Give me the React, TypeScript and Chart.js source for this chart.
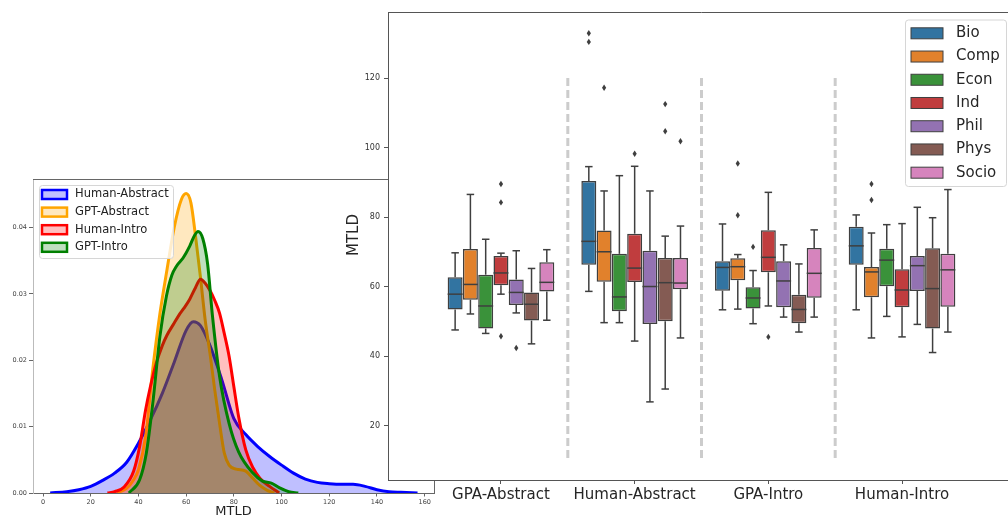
import React, { useEffect, useRef } from 'react';
import { Chart, registerables } from 'chart.js';

Chart.register(...registerables);

const FONT = 'DejaVu Sans';

// ---------- Left chart: KDE of MTLD ----------
const kdeLabels = ['Human-Abstract', 'GPT-Abstract', 'Human-Intro', 'GPT-Intro'];
const kdeColors = ['#0000ff', '#ffa500', '#ff0000', '#008000'];
const kdeFills = ['rgba(0,0,255,0.25)', 'rgba(255,165,0,0.25)', 'rgba(255,0,0,0.25)', 'rgba(0,128,0,0.25)'];

const humanAbstractX = [3, 10, 15, 20, 25, 30, 35, 40, 45, 50, 55, 60, 63, 66, 70, 75, 80, 85, 90, 95, 100, 105, 110, 115, 120, 125, 130, 135, 140, 145, 150, 157];
const humanAbstractY = [0, 0.0002, 0.0005, 0.001, 0.0019, 0.003, 0.0046, 0.0075, 0.011, 0.015, 0.0197, 0.0245, 0.0258, 0.0252, 0.0222, 0.017, 0.0112, 0.0088, 0.007, 0.0055, 0.0042, 0.003, 0.0021, 0.0016, 0.0014, 0.0013, 0.0013, 0.001, 0.0005, 0.0002, 0.0001, 0];

const gptAbstractX = [31, 35, 38, 40, 43, 46, 49, 52, 55, 58, 60, 62, 64, 66, 68, 70, 72, 74, 76, 78, 81, 85, 88, 91, 94, 97];
const gptAbstractY = [0, 0.0007, 0.002, 0.0035, 0.0085, 0.0186, 0.027, 0.0337, 0.04, 0.0442, 0.0451, 0.0437, 0.0385, 0.0325, 0.026, 0.021, 0.0155, 0.0105, 0.006, 0.0042, 0.0036, 0.0033, 0.0022, 0.0011, 0.0004, 0];

const humanIntroX = [27, 30, 34, 38, 40.5, 43, 45, 47.5, 50, 52, 55, 57, 59, 61.5, 64, 66, 68, 70, 72, 74, 76, 78, 80, 82, 85, 88, 91, 95, 99];
const humanIntroY = [0, 0.0002, 0.0009, 0.0033, 0.007, 0.0125, 0.016, 0.0196, 0.0222, 0.0238, 0.0256, 0.0268, 0.0278, 0.0292, 0.031, 0.0322, 0.0316, 0.0305, 0.029, 0.0271, 0.024, 0.0206, 0.016, 0.0115, 0.0065, 0.0038, 0.0022, 0.001, 0];

const gptIntroX = [36, 40.5, 43.3, 46, 49, 51.7, 54, 56, 58.7, 61.5, 63.5, 65, 67, 69, 71, 74, 78, 82, 88, 92, 95.7, 99, 103, 107];
const gptIntroY = [0, 0.002, 0.006, 0.0135, 0.0236, 0.0296, 0.0328, 0.0342, 0.0354, 0.0372, 0.0388, 0.0394, 0.0383, 0.0345, 0.0268, 0.0176, 0.0105, 0.0062, 0.003, 0.0018, 0.0015, 0.0008, 0.0002, 0];

const kdeXTicks = [0, 20, 40, 60, 80, 100, 120, 140, 160];
const kdeYTicks = [0, 0.01, 0.02, 0.03, 0.04];

// ---------- Right chart: box plots ----------
const groups = ['GPA-Abstract', 'Human-Abstract', 'GPA-Intro', 'Human-Intro'];
const fields = ['Bio', 'Comp', 'Econ', 'Ind', 'Phil', 'Phys', 'Socio'];
const fieldColors = ['#3274a1', '#e1812c', '#3a923a', '#c03d3e', '#9372b2', '#845b53', '#d684bd'];

// [lower whisker, Q1, median, Q3, upper whisker] per group
const bio = [[47.5, 53.4, 57.8, 62.7, 69.7], [58.6, 66.3, 73.0, 90.4, 94.5], [53.3, 58.8, 65.5, 67.3, 78.0], [53.3, 66.3, 71.7, 77.2, 80.6]];
const comp = [[52.1, 56.2, 60.6, 70.8, 86.5], [49.6, 61.4, 70.0, 76.1, 87.5], [53.5, 61.8, 65.7, 68.1, 69.2], [45.2, 56.9, 64.2, 65.6, 75.4]];
const econ = [[46.5, 47.9, 54.4, 63.4, 73.6], [49.6, 52.9, 57.0, 69.4, 91.9], [49.3, 53.7, 56.7, 59.8, 64.6], [51.4, 60.1, 67.6, 70.9, 77.8]];
const ind = [[57.8, 60.4, 63.9, 68.8, 69.6], [44.3, 61.3, 65.3, 75.2, 94.6], [54.4, 64.1, 68.4, 76.2, 87.1], [45.5, 54.0, 59.0, 65.0, 78.1]];
const phil = [[52.4, 54.7, 58.3, 62.0, 70.3], [26.8, 49.2, 60.0, 70.3, 87.5], [51.2, 54.0, 61.6, 67.3, 72.0], [49.1, 58.7, 66.0, 68.8, 82.8]];
const phys = [[43.5, 50.2, 54.9, 58.3, 65.2], [30.5, 50.0, 61.1, 68.2, 74.5], [46.9, 49.4, 53.4, 57.6, 66.5], [41.0, 47.9, 59.4, 71.0, 79.8]];
const socio = [[50.3, 58.6, 61.2, 67.0, 70.6], [45.2, 59.2, 61.0, 68.2, 77.4], [51.2, 56.8, 63.8, 71.1, 76.3], [46.9, 54.2, 64.8, 69.4, 87.9]];

const bioOut = [[], [132.9, 130.4], [], []];
const compOut = [[], [117.2], [95.4, 80.5], [89.5, 84.9]];
const econOut = [[], [], [71.4], []];
const indOut = [[89.5, 84.2, 45.7], [98.2], [45.5], []];
const philOut = [[42.3], [], [], []];
const physOut = [[], [112.5, 104.7], [], []];
const socioOut = [[], [101.8], [], []];

const fieldStats = [bio, comp, econ, ind, phil, phys, socio];
const fieldOutliers = [bioOut, compOut, econOut, indOut, philOut, physOut, socioOut];

const boxYTicks = [20, 40, 60, 80, 100, 120];
const separators = [0.5, 1.5, 2.5];
const separatorSpan = [10, 120];

const LINE_GRAY = '#3f3f3f';

export default function App() {
  const leftRef = useRef<HTMLCanvasElement>(null);
  const rightRef = useRef<HTMLCanvasElement>(null);

  useEffect(() => {
    const kdeSeries = [
      [humanAbstractX, humanAbstractY],
      [gptAbstractX, gptAbstractY],
      [humanIntroX, humanIntroY],
      [gptIntroX, gptIntroY],
    ];

    const kdePlugin = {
      id: 'kdeExtras',
      afterDraw(chart: any) {
        const { ctx, chartArea: a } = chart;
        ctx.save();
        ctx.strokeStyle = '#666';
        ctx.lineWidth = 1;
        ctx.beginPath();
        ctx.moveTo(a.left, a.top + 0.5);
        ctx.lineTo(a.right + 0.5, a.top + 0.5);
        ctx.lineTo(a.right + 0.5, a.bottom);
        ctx.stroke();

        // legend
        const lx = a.left + 6, ly = a.top + 6, lw = 134, lh = 73;
        ctx.fillStyle = 'rgba(255,255,255,0.8)';
        ctx.strokeStyle = '#d6d6d6';
        ctx.lineWidth = 1;
        ctx.beginPath();
        (ctx as any).roundRect(lx + 0.5, ly + 0.5, lw, lh, 3);
        ctx.fill();
        ctx.stroke();
        kdeLabels.forEach((lab, i) => {
          const cy = ly + 9.5 + i * 17.6;
          ctx.fillStyle = kdeFills[i];
          ctx.fillRect(lx + 3, cy - 4.5, 25, 9);
          ctx.strokeStyle = kdeColors[i];
          ctx.lineWidth = 2.5;
          ctx.strokeRect(lx + 3, cy - 4.5, 25, 9);
          ctx.fillStyle = '#222';
          ctx.font = `11.5px ${FONT}`;
          ctx.textAlign = 'left';
          ctx.textBaseline = 'middle';
          ctx.fillText(lab, lx + 36, cy);
        });

        // x title
        ctx.fillStyle = '#222';
        ctx.font = `13px ${FONT}`;
        ctx.textAlign = 'center';
        ctx.textBaseline = 'top';
        ctx.fillText('MTLD', (a.left + a.right) / 2, a.bottom + 12);
        ctx.restore();
      },
    };

    const left = new Chart(leftRef.current as HTMLCanvasElement, {
      type: 'line',
      data: {
        datasets: kdeSeries.map(([xs, ys], i) => ({
          label: kdeLabels[i],
          data: xs.map((x, j) => ({ x, y: ys[j] })),
          borderColor: kdeColors[i],
          backgroundColor: kdeFills[i],
          borderWidth: 3,
          pointRadius: 0,
          fill: 'origin',
          cubicInterpolationMode: 'monotone',
          order: kdeLabels.length - i,
        })),
      },
      options: {
        responsive: false,
        animation: false,
        devicePixelRatio: 1,
        layout: { padding: { left: 0, top: 179, right: 574, bottom: 0 } },
        plugins: {
          legend: { display: false },
          tooltip: { enabled: false },
          filler: { drawTime: 'beforeDatasetDraw' },
        },
        scales: {
          x: {
            type: 'linear',
            min: -4.2,
            max: 163.9,
            afterBuildTicks: (s: any) => { s.ticks = kdeXTicks.map((v) => ({ value: v })); },
            afterFit: (s: any) => { s.height = 23; },
            ticks: { font: { family: FONT, size: 6.5 }, color: '#444', padding: 2, maxRotation: 0, autoSkip: false },
            grid: { drawOnChartArea: false, tickLength: 3.5, color: '#666' },
            border: { color: '#666', width: 1 },
          },
          y: {
            type: 'linear',
            min: 0,
            max: 0.0473,
            afterBuildTicks: (s: any) => { s.ticks = kdeYTicks.map((v) => ({ value: v })); },
            afterFit: (s: any) => { s.width = 33; },
            ticks: { font: { family: FONT, size: 6.5 }, color: '#444', padding: 2, callback: (v: any) => Number(v).toFixed(2) },
            grid: { drawOnChartArea: false, tickLength: 4, color: '#666' },
            border: { color: '#bbb', width: 1 },
          },
        },
      } as any,
      plugins: [kdePlugin],
    });

    const boxPlugin = {
      id: 'boxExtras',
      beforeDraw(chart: any) {
        const { ctx, chartArea: a } = chart;
        ctx.save();
        ctx.fillStyle = '#ffffff';
        ctx.fillRect(a.left, a.top, a.right - a.left, a.bottom - a.top);
        ctx.restore();
      },
      beforeDatasetsDraw(chart: any) {
        const { ctx, scales } = chart;
        ctx.save();
        ctx.strokeStyle = '#cccccc';
        ctx.lineWidth = 3;
        ctx.setLineDash([8, 4]);
        separators.forEach((s) => {
          const x = scales.x.getPixelForValue(s);
          ctx.beginPath();
          ctx.moveTo(x, scales.y.getPixelForValue(separatorSpan[1]));
          ctx.lineTo(x, scales.y.getPixelForValue(separatorSpan[0]));
          ctx.stroke();
        });
        ctx.restore();
      },
      afterDatasetsDraw(chart: any) {
        const { ctx, scales } = chart;
        const y = (v: number) => scales.y.getPixelForValue(v);
        ctx.save();
        ctx.strokeStyle = LINE_GRAY;
        ctx.fillStyle = LINE_GRAY;
        ctx.lineWidth = 1.5;
        const line = (x1: number, y1: number, x2: number, y2: number) => {
          ctx.beginPath();
          ctx.moveTo(x1, y1);
          ctx.lineTo(x2, y2);
          ctx.stroke();
        };
        fieldStats.forEach((stats, k) => {
          const meta = chart.getDatasetMeta(k);
          meta.data.forEach((bar: any, i: number) => {
            const { x, width } = bar.getProps(['x', 'width'], true);
            const [lo, q1, med, q3, hi] = stats[i];
            line(x, y(q1), x, y(lo));
            line(x, y(q3), x, y(hi));
            line(x - width / 4, y(lo), x + width / 4, y(lo));
            line(x - width / 4, y(hi), x + width / 4, y(hi));
            line(x - width / 2, y(med), x + width / 2, y(med));
            fieldOutliers[k][i].forEach((v) => {
              const py = y(v);
              ctx.beginPath();
              ctx.moveTo(x, py - 3.2);
              ctx.lineTo(x + 2.1, py);
              ctx.lineTo(x, py + 3.2);
              ctx.lineTo(x - 2.1, py);
              ctx.closePath();
              ctx.fill();
            });
          });
        });
        ctx.restore();
      },
      afterDraw(chart: any) {
        const { ctx, chartArea: a } = chart;
        ctx.save();
        ctx.strokeStyle = '#555';
        ctx.lineWidth = 1;
        ctx.beginPath();
        ctx.moveTo(a.left, a.top + 0.5);
        ctx.lineTo(a.right, a.top + 0.5);
        ctx.stroke();

        // legend
        const lw = 101, lh = 166.5;
        const lx = a.right - 8.5 - lw, ly = a.top + 8;
        ctx.fillStyle = 'rgba(255,255,255,0.8)';
        ctx.strokeStyle = '#d6d6d6';
        ctx.beginPath();
        (ctx as any).roundRect(lx, ly, lw, lh, 3);
        ctx.fill();
        ctx.stroke();
        fields.forEach((f, i) => {
          const cy = ly + 13.3 + i * 23.23;
          ctx.fillStyle = fieldColors[i];
          ctx.fillRect(lx + 5.5, cy - 5.5, 32, 11);
          ctx.strokeStyle = LINE_GRAY;
          ctx.lineWidth = 1;
          ctx.strokeRect(lx + 5.5, cy - 5.5, 32, 11);
          ctx.fillStyle = '#262626';
          ctx.font = `15px ${FONT}`;
          ctx.textAlign = 'left';
          ctx.textBaseline = 'middle';
          ctx.fillText(f, lx + 50.5, cy);
        });

        // y title
        ctx.translate(a.left - 34, 235);
        ctx.rotate(-Math.PI / 2);
        ctx.fillStyle = '#262626';
        ctx.font = `15px ${FONT}`;
        ctx.textAlign = 'center';
        ctx.textBaseline = 'middle';
        ctx.fillText('MTLD', 0, 0);
        ctx.restore();
      },
    };

    const right = new Chart(rightRef.current as HTMLCanvasElement, {
      type: 'bar',
      data: {
        datasets: fields.map((f, k) => ({
          label: f,
          data: groups.map((_, i) => ({ x: i, y: [fieldStats[k][i][1], fieldStats[k][i][3]] })),
          backgroundColor: fieldColors[k],
          borderColor: LINE_GRAY,
          borderWidth: 1.5,
          borderSkipped: false,
          categoryPercentage: 0.8,
          barPercentage: 0.98,
        })),
      },
      options: {
        responsive: false,
        animation: false,
        devicePixelRatio: 1,
        layout: { padding: { left: 0, top: 12, right: 5, bottom: 0 } },
        plugins: { legend: { display: false }, tooltip: { enabled: false } },
        scales: {
          x: {
            type: 'linear',
            min: -0.845,
            max: 3.845,
            offset: false,
            afterBuildTicks: (s: any) => { s.ticks = groups.map((_, i) => ({ value: i })); },
            afterFit: (s: any) => { s.height = 36; },
            ticks: {
              font: { family: FONT, size: 15 },
              color: '#262626',
              padding: 2,
              maxRotation: 0,
              autoSkip: false,
              callback: (v: any) => groups[Math.round(Number(v))],
            },
            grid: { drawOnChartArea: false, offset: false, tickLength: 4, color: '#555' },
            border: { color: '#555', width: 1 },
          },
          y: {
            type: 'linear',
            min: 4.32,
            max: 139,
            afterBuildTicks: (s: any) => { s.ticks = boxYTicks.map((v) => ({ value: v })); },
            afterFit: (s: any) => { s.width = 388; },
            ticks: { font: { family: FONT, size: 8 }, color: '#333', padding: 4 },
            grid: { drawOnChartArea: false, tickLength: 4, color: '#555' },
            border: { color: '#555', width: 1 },
          },
        },
      } as any,
      plugins: [boxPlugin],
    });

    return () => {
      left.destroy();
      right.destroy();
    };
  }, []);

  return (
    <div style={{ position: 'absolute', left: 0, top: 0, width: 1008, height: 516, overflow: 'hidden', background: '#fff' }}>
      <canvas ref={leftRef} width={1008} height={516} style={{ position: 'absolute', left: 0, top: 0, width: 1008, height: 516 }} />
      <canvas ref={rightRef} width={1020} height={516} style={{ position: 'absolute', left: 0, top: 0, width: 1020, height: 516 }} />
    </div>
  );
}
